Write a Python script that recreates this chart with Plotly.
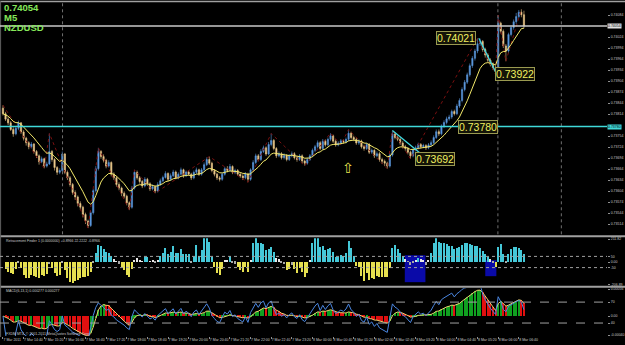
import numpy as np
import pandas as pd
import plotly.graph_objects as go

# ---------------- data (prices in points: price = 0.73 + pts / 100000) ----------------
BASE = 0.73
first_open_pts = 830
close_pts = [
    815, 800, 790, 772, 760, 775, 790, 765, 748, 736,
    725, 732, 712, 700, 684, 692, 672, 678, 712, 690,
    668, 655, 660, 705, 655, 640, 622, 600, 588, 570,
    560, 540, 522, 510, 545, 605, 665, 712, 698, 688,
    672, 682, 650, 640, 622, 612, 598, 590, 572, 560,
    612, 655, 640, 630, 618, 636, 624, 610, 616, 604,
    622, 632, 641, 652, 636, 646, 656, 640, 650, 662,
    646, 656, 650, 640, 655, 662, 650, 662, 676, 690,
    680, 660, 650, 640, 636, 650, 665, 660, 671, 655,
    660, 650, 645, 640, 651, 636, 662, 682, 700, 690,
    712, 722, 705, 731, 742, 720, 700, 706, 695, 701,
    690, 700, 706, 695, 690, 700, 686, 680, 690, 700,
    715, 725, 736, 720, 740, 730, 745, 755, 740, 730,
    735, 741, 738, 745, 762, 750, 745, 735, 740, 725,
    720, 731, 710, 715, 700, 706, 690, 685, 680, 672,
    702, 760, 750, 745, 735, 725, 720, 710, 700, 716,
    722, 731, 725, 728, 722, 730, 736, 750, 766, 760,
    781, 791, 801, 806, 821, 815, 836, 851, 881, 901,
    921, 946, 966, 986, 1006, 1012, 990, 975, 961, 950,
    940, 930, 1062, 1040, 1000, 986, 1031, 1050, 1066, 1080,
    1092, 1085, 1054,
]
high_pts = [
    838, 820, 806, 795, 778, 780, 796, 792, 770, 752,
    740, 738, 735, 716, 704, 698, 695, 684, 761, 716,
    694, 672, 666, 712, 708, 660, 645, 626, 606, 592,
    576, 564, 545, 526, 550, 610, 672, 722, 716, 704,
    692, 688, 685, 655, 645, 628, 616, 603, 594, 576,
    618, 662, 660, 645, 634, 642, 640, 628, 622, 620,
    628, 638, 646, 658, 655, 652, 662, 660, 655, 668,
    665, 660, 661, 654, 660, 668, 665, 667, 682, 696,
    698, 684, 664, 654, 645, 655, 670, 672, 678, 674,
    665, 664, 655, 650, 656, 654, 666, 688, 706, 705,
    718, 728, 726, 738, 761, 746, 724, 712, 710, 707,
    705, 705, 712, 710, 700, 705, 704, 690, 695, 705,
    720, 730, 742, 740, 746, 745, 750, 762, 758, 745,
    740, 746, 745, 750, 772, 766, 755, 750, 745, 744,
    730, 736, 735, 720, 718, 712, 710, 695, 690, 684,
    708, 769, 765, 755, 750, 740, 730, 724, 714, 720,
    728, 736, 735, 733, 732, 735, 742, 756, 772, 772,
    786, 797, 807, 812, 826, 826, 842, 857, 887, 907,
    927, 952, 972, 992, 1021, 1020, 1016, 995, 980, 966,
    955, 945, 1084, 1066, 1045, 1005, 1036, 1056, 1072, 1090,
    1098, 1100, 1096,
]
low_pts = [
    810, 795, 784, 768, 752, 756, 770, 760, 742, 728,
    718, 720, 706, 694, 676, 680, 666, 668, 675, 684,
    660, 648, 650, 656, 650, 634, 616, 594, 580, 562,
    552, 532, 514, 503, 506, 540, 600, 660, 692, 682,
    666, 668, 644, 634, 616, 606, 590, 584, 565, 552,
    556, 608, 635, 624, 612, 614, 618, 604, 606, 598,
    600, 618, 628, 638, 630, 632, 642, 636, 636, 646,
    640, 642, 646, 634, 636, 651, 645, 646, 658, 672,
    675, 655, 644, 634, 630, 632, 646, 655, 656, 650,
    650, 645, 640, 634, 636, 628, 632, 658, 678, 685,
    686, 708, 700, 702, 726, 715, 694, 696, 690, 690,
    685, 686, 696, 690, 684, 686, 680, 673, 676, 686,
    696, 710, 720, 715, 716, 725, 726, 740, 735, 725,
    726, 730, 733, 734, 740, 745, 740, 730, 730, 720,
    714, 716, 705, 705, 694, 696, 684, 678, 672, 665,
    668, 698, 745, 740, 730, 720, 714, 704, 692, 696,
    712, 718, 720, 721, 716, 718, 726, 732, 746, 754,
    756, 776, 786, 796, 801, 810, 811, 831, 846, 876,
    896, 916, 940, 960, 980, 1000, 984, 968, 955, 944,
    934, 922, 926, 1034, 994, 958, 980, 1026, 1044, 1060,
    1076, 1078, 1048,
]
time_labels = [
    "7 Mar 2011", "7 Mar 14:40", "7 Mar 15:20", "7 Mar 16:00", "7 Mar 16:40",
    "7 Mar 17:20", "7 Mar 18:00", "7 Mar 18:40", "7 Mar 19:20", "7 Mar 20:00",
    "7 Mar 20:40", "7 Mar 21:20", "7 Mar 22:00", "7 Mar 22:40", "7 Mar 23:20",
    "8 Mar 00:00", "8 Mar 00:40", "8 Mar 01:20", "8 Mar 02:00", "8 Mar 02:40",
    "8 Mar 03:20", "8 Mar 04:00", "8 Mar 04:40", "8 Mar 05:20", "8 Mar 06:00",
    "8 Mar 06:40",
]
zz_bars = [0, 16, 18, 33, 37, 49, 51, 59, 80, 95, 104, 117, 127, 131, 134, 149, 151, 158, 184, 191, 192, 195, 201]
zz_pts = [838, 666, 761, 503, 722, 552, 662, 598, 698, 628, 761, 673, 762, 730, 772, 665, 769, 692, 1021, 922, 1084, 958, 1100]
bid_price = 0.74054
level_price = 0.73780
swing_labels = [0.74021, 0.73922, 0.73780, 0.73692]
symbol_text = ["0.74054", "M5", "NZDUSD"]

# ---------------- derived table / indicators ----------------
n = len(close_pts)
idx = np.arange(n)
close = BASE + np.array(close_pts) / 1e5
high = BASE + np.array(high_pts) / 1e5
low = BASE + np.array(low_pts) / 1e5
opn = np.concatenate([[BASE + first_open_pts / 1e5], close[:-1]])
df = pd.DataFrame(dict(o=opn, h=high, l=low, c=close))
ma = df.c.ewm(span=10, adjust=False).mean()

tp = (df.h + df.l + df.c) / 3
sma = tp.rolling(14, min_periods=2).mean()
md = tp.rolling(14, min_periods=2).apply(lambda x: np.mean(np.abs(x - x.mean())), raw=True)
cci = ((tp - sma) / (0.015 * md)).replace([np.inf, -np.inf], 0).fillna(0)
cci_col = []
for v in cci:
    if abs(v) < 35:
        cci_col.append('#e8e8e8' if v >= 0 else '#a8a8a8')
    else:
        cci_col.append('#45c8d8' if v > 0 else '#e6e050')

macd = df.c.ewm(span=6, adjust=False).mean() - df.c.ewm(span=13, adjust=False).mean()
macd_col = ['#10a020' if (i == 0 or macd[i] >= macd[i - 1]) else '#e01010' for i in range(n)]
delta = df.c.diff().fillna(0)
gain = delta.clip(lower=0).ewm(alpha=1 / 9, adjust=False).mean()
loss = (-delta.clip(upper=0)).ewm(alpha=1 / 9, adjust=False).mean()
rsi = (100 - 100 / (1 + gain / loss.replace(0, np.nan))).fillna(50)

# ---------------- layout geometry ----------------
H_PLOT = 337.0
def py(Y):
    return 1 - Y / H_PLOT

UP = '#5b97dc'
DN = '#ecc98c'
AXC = '#909090'
small = dict(family='Liberation Sans', size=3.5, color='#c8c8c8')

fig = go.Figure()
fig.add_trace(go.Candlestick(
    x=idx, open=df.o, high=df.h, low=df.l, close=df.c,
    increasing=dict(line=dict(color=UP, width=0.6), fillcolor=UP),
    decreasing=dict(line=dict(color=DN, width=0.6), fillcolor=DN),
    whiskerwidth=0, xaxis='x', yaxis='y', hoverinfo='skip', showlegend=False))
fig.add_trace(go.Scatter(x=zz_bars, y=BASE + np.array(zz_pts) / 1e5, mode='lines',
                         line=dict(color='#7a1010', width=1, dash='dot'), yaxis='y', hoverinfo='skip'))
fig.add_trace(go.Scatter(x=idx, y=ma, mode='lines', line=dict(color='#f2e86a', width=1),
                         yaxis='y', hoverinfo='skip'))
fig.add_trace(go.Bar(x=idx, y=cci, marker=dict(color=cci_col, line=dict(width=0)), width=0.42,
                     yaxis='y2', hoverinfo='skip'))
fig.add_trace(go.Bar(x=idx, y=macd, marker=dict(color=macd_col, line=dict(width=0)), width=0.8,
                     yaxis='y3', hoverinfo='skip'))
fig.add_trace(go.Scatter(x=idx, y=macd, mode='lines', line=dict(color='#ecd070', width=1),
                         yaxis='y3', hoverinfo='skip'))
fig.add_trace(go.Scatter(x=idx, y=rsi, mode='lines', line=dict(color='#4a86e0', width=1),
                         yaxis='y4', hoverinfo='skip'))

s = float(macd.max()) / 26.0
shapes = []
# panel separators and frame
for Y, w in [(0.5, 1.5), (236, 2), (286.5, 2)]:
    shapes.append(dict(type='line', xref='paper', yref='paper', x0=0, x1=1.03, y0=py(Y), y1=py(Y),
                       line=dict(color='#a0a0a0', width=w)))
shapes.append(dict(type='line', xref='paper', yref='paper', x0=0.001, x1=0.001, y0=0, y1=1,
                   line=dict(color='#606060', width=1)))
# vertical period separators (main panel)
for xv in [23.1, 191.9, 216.5]:
    shapes.append(dict(type='line', xref='x', yref='paper', x0=xv, x1=xv, y0=py(234), y1=py(2),
                       line=dict(color='#707070', width=1, dash='dot')))
# horizontal levels
shapes.append(dict(type='line', xref='paper', yref='y', x0=0, x1=1, y0=bid_price, y1=bid_price,
                   line=dict(color='#c8c8c8', width=1.5)))
shapes.append(dict(type='line', xref='paper', yref='y', x0=0, x1=1, y0=level_price, y1=level_price,
                   line=dict(color='#3fd8d8', width=1.5)))
# trend lines
shapes.append(dict(type='line', xref='x', yref='y', x0=184.5, y0=swing_labels[0], x1=191.5, y1=swing_labels[1],
                   line=dict(color='#3fd8e0', width=1.3)))
shapes.append(dict(type='line', xref='x', yref='y', x0=151, y0=0.73769, x1=163, y1=0.73700,
                   line=dict(color='#3fd8e0', width=1.3)))
# oscillator levels
for v in [50, -50]:
    shapes.append(dict(type='line', xref='paper', yref='y2', x0=0, x1=1, y0=v, y1=v,
                       line=dict(color='#a0a0a0', width=1, dash='dot')))
for v in [70, 40]:
    shapes.append(dict(type='line', xref='paper', yref='y4', x0=0, x1=1, y0=v, y1=v,
                       line=dict(color='#a0a0a0', width=1, dash='dash')))
# blue highlight boxes in oscillator panel
shapes.append(dict(type='rect', xref='x', yref='paper', x0=155.8, x1=163.8, y0=py(282), y1=py(255),
                   fillcolor='#0a0aa8', line=dict(width=0), layer='below'))
shapes.append(dict(type='rect', xref='x', yref='paper', x0=187, x1=191.3, y0=py(276), y1=py(260),
                   fillcolor='#0a0aa8', line=dict(width=0), layer='below'))

ann = []
lab_font = dict(family='Liberation Sans', size=10.5, color='#f0f060')
for xv, val in [(175.6, swing_labels[0]), (198.7, swing_labels[1]), (184.2, swing_labels[2]), (167.5, swing_labels[3])]:
    ann.append(dict(x=xv, y=val, xref='x', yref='y', text=f"{val:.5f}", showarrow=False, font=lab_font,
                    bgcolor='#141408', bordercolor='#9a9a50', borderwidth=1, borderpad=0))
ann.append(dict(x=133.8, y=0.73668, xref='x', yref='y', text='⇧', showarrow=False,
                font=dict(family='DejaVu Sans', size=14, color='#e8e050')))
for k, t in enumerate(symbol_text):
    ann.append(dict(x=0.003, y=py(7 + 10 * k), xref='paper', yref='paper', xanchor='left', yanchor='middle',
                    text=f"<b>{t}</b>", showarrow=False,
                    font=dict(family='Liberation Sans', size=9.5, color='#86e85a')))
ann.append(dict(x=0.006, y=py(241), xref='paper', yref='paper', xanchor='left', yanchor='middle',
                text='Retracement Finder 1 (0.0000000) +0.8966 22.2222 -0.8966', showarrow=False, font=small))
ann.append(dict(x=0.006, y=py(290.5), xref='paper', yref='paper', xanchor='left', yanchor='middle',
                text='MACD(6,13,1) 0.000277 0.000277', showarrow=False, font=small))
ann.append(dict(x=0.006, y=py(333.5), xref='paper', yref='paper', xanchor='left', yanchor='middle',
                text='FXDM MT4, © 2001-2011 MetaQuotes Software Corp.', showarrow=False, font=small))
for val, bg in [(bid_price, '#e0e0e0'), (level_price, '#3fd8d8')]:
    ann.append(dict(x=1.0, y=val, xref='paper', yref='y', xanchor='left', yanchor='middle',
                    text=f"{val:.5f}", showarrow=False, bgcolor=bg, borderpad=0,
                    font=dict(family='Liberation Sans', size=3.5, color='#000000')))

# price ticks every 0.00030, skipping the ones hidden behind the highlighted price labels
price_ticks = [round(0.74084 - 0.0003 * k, 5) for k in range(22)]
price_ticks = [t for t in price_ticks if 0.73490 < t < 0.74115
               and abs(t - bid_price) > 0.00012 and abs(t - level_price) > 0.00012]

yax_common = dict(side='right', anchor='x', showgrid=False, zeroline=False, showline=False,
                  ticks='outside', ticklen=2, tickcolor=AXC, tickfont=small, fixedrange=True)
fig.update_layout(
    width=625, height=345, margin=dict(l=0, r=13, t=0, b=8),
    paper_bgcolor='black', plot_bgcolor='black', showlegend=False, bargap=0,
    xaxis=dict(range=[-1.15, 234.2], anchor='y3', tickvals=list(range(0, n, 8))[:len(time_labels)],
               ticktext=time_labels, ticklabelposition='outside right', tickangle=0, tickfont=small,
               ticks='outside', ticklen=2, tickcolor=AXC, showgrid=False, zeroline=False,
               showline=False, rangeslider=dict(visible=False), fixedrange=True),
    yaxis=dict(domain=[py(234), py(2)], range=[0.73486, 0.74117], tickvals=price_ticks,
               tickformat='.5f', **yax_common),
    yaxis2=dict(domain=[py(285), py(238)], range=[-206.89, 211.82], tickvals=[205, 50, 0, -50, -200],
                ticktext=['211.82', '50', '0.00', '-50', '-206.89'], **yax_common),
    yaxis3=dict(domain=[py(336), py(288)], range=[-20 * s, 28 * s],
                tickvals=[27 * s, 0, -19 * s],
                ticktext=[f"{27 * s:.5f}", '0.00', f"{-19 * s:.5f}"], **yax_common),
    yaxis4=dict(domain=[py(336), py(288)], range=[50 - 20 * 1.4286, 50 + 28 * 1.4286], overlaying='y3',
                tickvals=[70, 40], ticktext=['70', '40'], **yax_common),
    shapes=shapes, annotations=ann,
)
fig.write_html("out.html", config=dict(displayModeBar=False))
